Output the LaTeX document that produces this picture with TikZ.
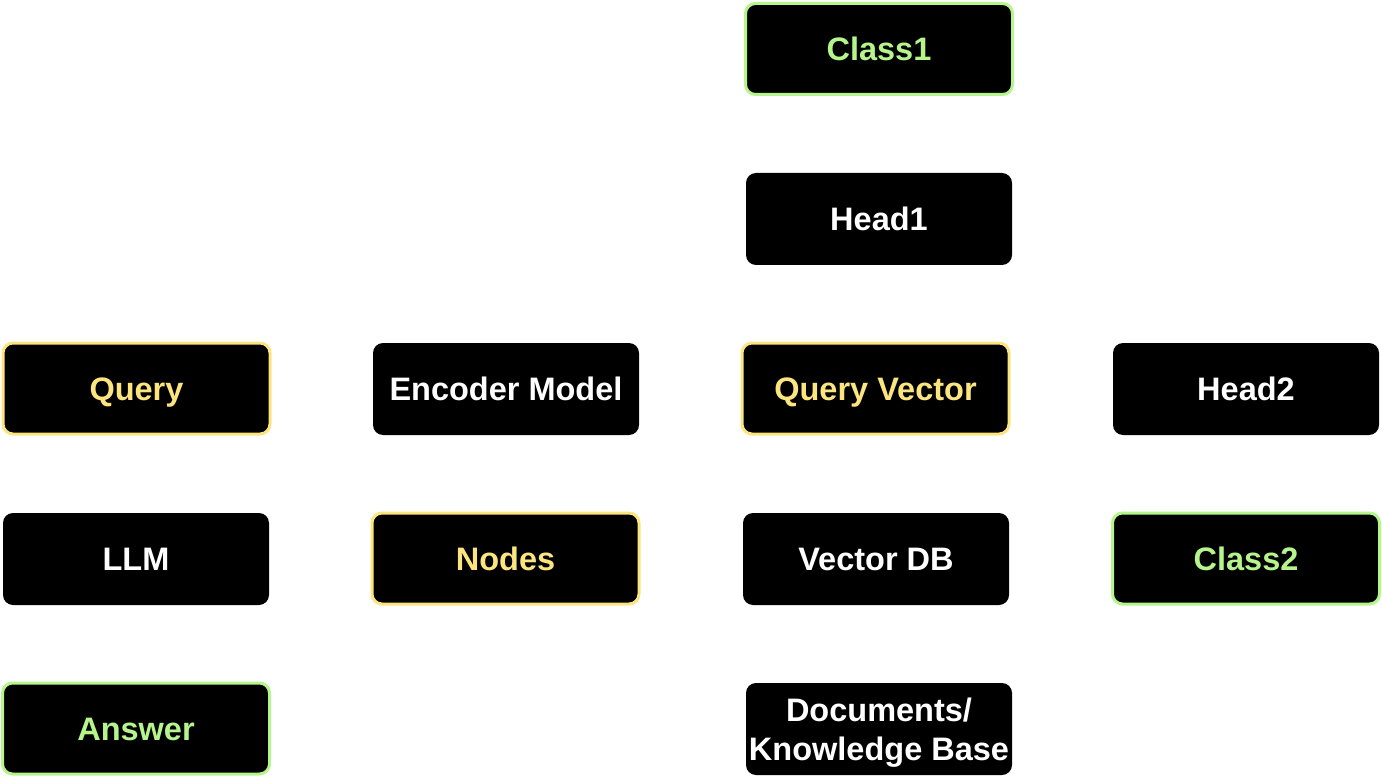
\documentclass[tikz,border=0pt]{standalone}
\usepackage{fontspec}
\setmainfont{Liberation Sans}
\definecolor{limeg}{HTML}{B5F58C}
\definecolor{yell}{HTML}{FCE57F}
\begin{document}
\begin{tikzpicture}[x=1pt,y=-1pt,
  box/.style={fill=black, rounded corners=10pt, minimum width=266pt, minimum height=92pt,
    inner sep=0pt, text=white, font=\bfseries\fontsize{32.5}{39}\selectfont,
    text height=23pt, text depth=0pt, align=center},
  greenbox/.style={box, draw=limeg, line width=3pt, text=limeg, minimum width=267pt, minimum height=91pt},
  yellowbox/.style={box, draw=yell, line width=3pt, text=yell, minimum width=267pt, minimum height=91pt}]
\useasboundingbox (0,0) rectangle (1382,778);
\node[greenbox] (class1) at (879,49) {Class1};
\node[box] (head1) at (879,219) {Head1};
\node[yellowbox] (query) at (136.5,388.5) {Query};
\node[box] (encoder) at (506,389) {Encoder Model};
\node[yellowbox] (qvec) at (875.5,388.5) {Query Vector};
\node[box] (head2) at (1246,389) {Head2};
\node[box] (llm) at (136,559) {LLM};
\node[yellowbox] (nodes) at (505.5,558.5) {Nodes};
\node[box] (vdb) at (876,559) {Vector DB};
\node[greenbox] (class2) at (1246,558.5) {Class2};
\node[greenbox] (answer) at (136,728.5) {Answer};
\node[box, text height=62pt, text depth=0pt] (docs) at (879,729) {Documents/\\Knowledge Base};
\end{tikzpicture}
\end{document}
